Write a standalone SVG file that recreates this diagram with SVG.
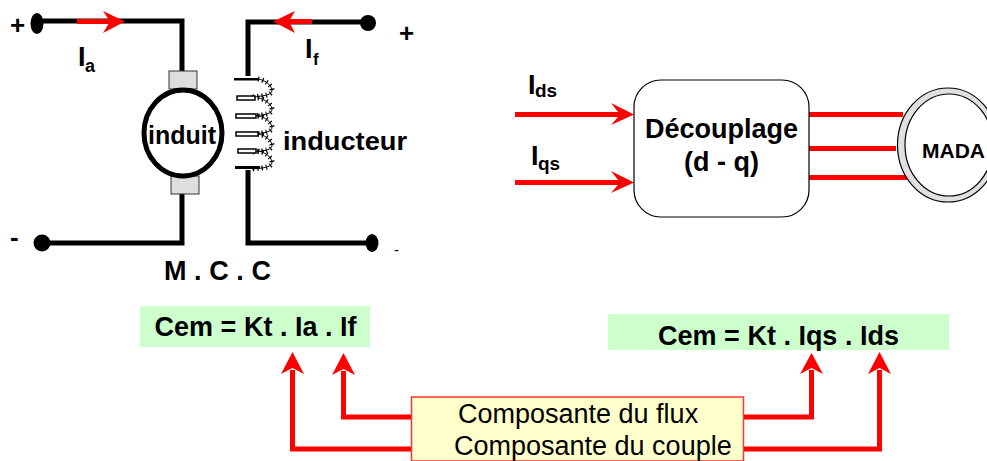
<svg xmlns="http://www.w3.org/2000/svg" width="987" height="461" viewBox="0 0 987 461">
<defs><style>
text{font-family:"Liberation Sans",Arial,sans-serif;fill:#000}
.b{font-weight:700}
.w{fill:none;stroke:#000;stroke-width:5}
.r{fill:none;stroke:#f00;stroke-width:5}
.h{fill:#f00}
.brush{fill:#dedede;stroke:#333;stroke-width:1}
.coil{fill:#fff;stroke:#000;stroke-width:1.5}
.cw{fill:none;stroke:#000;stroke-width:1}
.ct{fill:none;stroke:#000;stroke-width:5;stroke-dasharray:1.2 3.2}
</style>
<path id="turn" d="M258 0C264 1 271 5 272 11C272 16 265 17 252 18"/>
</defs>
<rect width="987" height="461" fill="#fff"/>
<g id="connectors">
<path class="w" d="M38 21H182V72"/>
<path class="w" d="M182 192V243H42"/>
<path class="w" d="M368 22H248V76"/>
<path class="w" d="M248 170V243H373"/>
<path d="M77 21.500H115" class="r"/><path class="h" d="M125 21.500L103 11L110 21.500L103 33Z"/>
<path d="M312 21.500H282" class="r"/><path class="h" d="M273 21.500L295 11L289 21.500L295 33Z"/>
<path d="M515 114.500H625" class="r"/><path class="h" d="M634 114.500L611 103L620 114.500L611 125Z"/>
<path d="M515 182.500H625" class="r"/><path class="h" d="M634 182.500L611 171L620 182.500L611 193Z"/>
<path d="M809 114.500H903M809 148.500H896M809 177.500H907" class="r"/>
<path class="r" d="M412 449H292.500V370"/><path class="h" d="M292.500 352L281 374L292.500 368L304 374Z"/>
<path class="r" d="M412 417H343.500V371"/><path class="h" d="M343.500 353L332 375L343.500 369L355 375Z"/>
<path class="r" d="M743 417H811.500V370"/><path class="h" d="M811.500 353L800 374L811.500 368L823 374Z"/>
<path class="r" d="M743 449H879.500V370"/><path class="h" d="M879.500 352L868 374L879.500 368L891 374Z"/>
</g>
<g id="term-a-plus"><ellipse cx="37" cy="23.500" rx="6.500" ry="10.500"/><text class="b" x="10" y="34" font-size="26">+</text></g>
<g id="term-a-minus"><circle cx="42" cy="243" r="8.500"/><text class="b" x="10" y="246" font-size="26">-</text></g>
<g id="term-f-plus"><circle cx="368" cy="23" r="8"/><text class="b" x="399" y="42" font-size="26">+</text></g>
<g id="term-f-minus"><ellipse cx="372" cy="243" rx="6.500" ry="9"/><text x="394" y="255" font-size="15">-</text></g>
<g id="label-ia"><text class="b" x="78" y="66" font-size="27">I</text><text class="b" x="85" y="72" font-size="18">a</text></g>
<g id="label-if"><text class="b" x="305" y="58" font-size="27">I</text><text class="b" x="313" y="65" font-size="17">f</text></g>
<g id="induit">
<rect class="brush" x="169" y="71" width="28" height="18"/>
<rect class="brush" x="171" y="176" width="28" height="18"/>
<ellipse cx="183" cy="133" rx="39" ry="43" fill="#fff" stroke="#000" stroke-width="5"/>
<text class="b" x="182" y="144" font-size="25" text-anchor="middle" textLength="68" lengthAdjust="spacingAndGlyphs">induit</text>
</g>
<g id="inducteur">
<rect x="234" y="78" width="24" height="2.500" fill="#000"/>
<g transform="translate(0,79)"><use href="#turn" class="cw"/><use href="#turn" class="ct"/></g>
<rect class="coil" x="237" y="96" width="18" height="4"/>
<g transform="translate(0,98)"><use href="#turn" class="cw"/><use href="#turn" class="ct"/></g>
<rect class="coil" x="236" y="114" width="20" height="4"/>
<g transform="translate(0,116)"><use href="#turn" class="cw"/><use href="#turn" class="ct"/></g>
<rect class="coil" x="236" y="132" width="22" height="4"/>
<g transform="translate(0,134)"><use href="#turn" class="cw"/><use href="#turn" class="ct"/></g>
<rect class="coil" x="238" y="149" width="18" height="4"/>
<g transform="translate(0,151)"><use href="#turn" class="cw"/><use href="#turn" class="ct"/></g>
<rect x="235" y="166" width="25" height="3" fill="#000"/>
<text class="b" x="283" y="150" font-size="26" textLength="124" lengthAdjust="spacingAndGlyphs">inducteur</text>
</g>
<g id="label-mcc"><text class="b" x="164" y="280" font-size="27" textLength="107" lengthAdjust="spacing">M . C . C</text></g>
<g id="label-ids"><text class="b" x="528" y="94" font-size="27">I</text><text class="b" x="535" y="97" font-size="19">ds</text></g>
<g id="label-iqs"><text class="b" x="531" y="165" font-size="27">I</text><text class="b" x="538" y="170" font-size="19">qs</text></g>
<g id="decouplage">
<rect x="634" y="80" width="175" height="137" rx="27" fill="#fff" stroke="#000" stroke-width="1.200"/>
<text class="b" x="721.500" y="138" font-size="27" text-anchor="middle">Découplage</text>
<text class="b" x="721.500" y="171" font-size="27" text-anchor="middle">(d - q)</text>
</g>
<g id="mada">
<ellipse cx="948" cy="145" rx="50.500" ry="57" fill="#e0e0e0" stroke="#000" stroke-width="1.200"/>
<ellipse cx="949" cy="145" rx="44" ry="51" fill="#fff" stroke="#000" stroke-width="1.200"/>
<text class="b" x="922" y="158" font-size="21">MADA</text>
</g>
<g id="eq-left"><rect x="140" y="306" width="230" height="41" fill="#ccffcc"/><text class="b" x="255.500" y="336" font-size="27" text-anchor="middle">Cem = Kt . Ia . If</text></g>
<g id="eq-right"><rect x="608" y="314" width="341" height="36" fill="#ccffcc"/><text class="b" x="778.500" y="345" font-size="27" text-anchor="middle">Cem = Kt . Iqs . Ids</text></g>
<g id="components">
<rect x="411.500" y="397" width="332" height="64" fill="#ffffcc" stroke="#ff3333" stroke-width="1.500"/>
<text x="458" y="423" font-size="27">Composante du flux</text>
<text x="454" y="455" font-size="27">Composante du couple</text>
</g>
</svg>
